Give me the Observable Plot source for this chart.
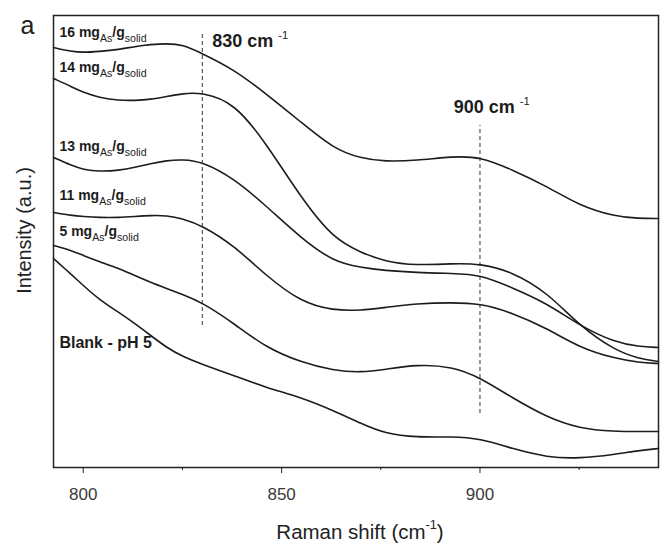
<!DOCTYPE html>
<html>
<head>
<meta charset="utf-8">
<script src="https://cdn.jsdelivr.net/npm/d3@7"></script>
<script src="https://cdn.jsdelivr.net/npm/@observablehq/plot@0.6"></script>
<style>
  html, body { margin: 0; padding: 0; background: #fff; }
  #chart { width: 660px; height: 543px; }
</style>
</head>
<body>
<div id="chart"></div>
<script>
// Raman shift (cm^-1)
const wavenumber = [792.5, 797, 800, 804, 809, 813, 817, 821, 825, 830, 838, 846, 855, 863, 870, 876, 884, 893, 900, 908, 917, 925, 934, 940, 945];

// Intensity (a.u.)
const s16   = [4.20, 4.16, 4.15, 4.16, 4.18, 4.21, 4.23, 4.24, 4.23, 4.14, 3.98, 3.74, 3.45, 3.19, 3.09, 3.06, 3.07, 3.11, 3.11, 2.98, 2.81, 2.62, 2.51, 2.49, 2.49];
const s14   = [3.89, 3.81, 3.75, 3.70, 3.67, 3.67, 3.68, 3.71, 3.74, 3.75, 3.65, 3.25, 2.69, 2.29, 2.15, 2.06, 2.02, 2.04, 2.04, 1.96, 1.75, 1.42, 1.17, 1.09, 1.06];
const s13   = [3.10, 3.02, 2.98, 2.96, 2.97, 3.00, 3.04, 3.07, 3.08, 3.06, 2.89, 2.62, 2.29, 2.06, 2.00, 1.97, 1.95, 1.94, 1.93, 1.80, 1.64, 1.42, 1.25, 1.21, 1.20];
const s11   = [2.55, 2.52, 2.51, 2.50, 2.50, 2.51, 2.52, 2.52, 2.49, 2.42, 2.22, 1.92, 1.65, 1.57, 1.57, 1.60, 1.64, 1.65, 1.64, 1.55, 1.39, 1.20, 1.09, 1.05, 1.04];
const s5    = [2.22, 2.17, 2.12, 2.06, 1.99, 1.92, 1.85, 1.79, 1.73, 1.65, 1.44, 1.20, 1.05, 0.97, 0.95, 0.98, 1.03, 1.01, 0.90, 0.70, 0.50, 0.39, 0.36, 0.36, 0.36];
const blank = [2.09, 1.93, 1.82, 1.68, 1.55, 1.44, 1.32, 1.20, 1.11, 1.03, 0.92, 0.80, 0.70, 0.57, 0.44, 0.34, 0.30, 0.31, 0.29, 0.19, 0.10, 0.09, 0.13, 0.17, 0.19];

const seriesNames = ["16 mg_{As}/g_{solid}", "14 mg_{As}/g_{solid}", "13 mg_{As}/g_{solid}", "11 mg_{As}/g_{solid}", "5 mg_{As}/g_{solid}", "Blank - pH 5"];
const seriesValues = [s16, s14, s13, s11, s5, blank];

// curve labels (anchor in data units)
const labelX = [794, 794, 794, 794, 794, 794];
const labelY = [4.345, 3.995, 3.205, 2.715, 2.355, 1.25];

// reference band markers
const markerX = [830, 900];
const markerTop = [4.35, 3.42];
const markerBottom = [1.42, 0.54];
const markerText = ["830 cm ^{-1}", "900 cm ^{-1}"];
const markerTextX = [832.5, 893.4];
const markerTextY = [4.26, 3.60];

const majorTicks = [800, 850, 900];
const minorTicks = [825, 875, 925];
const xDomain = [792.5, 945];
const yDomain = [0, 4.52];

const xLabel = "Raman shift (cm^{-1})";
const yLabel = "Intensity (a.u.)";
const panelLabel = "a";

const rows = [];
seriesNames.forEach((name, i) => {
  wavenumber.forEach((w, j) => rows.push({series: name, w, I: seriesValues[i][j]}));
});
const markers = markerX.map((x, i) => ({x, y1: markerBottom[i], y2: markerTop[i], text: markerText[i], tx: markerTextX[i], ty: markerTextY[i]}));

const ink = "#1c1c1c";
const plot = Plot.plot({
  width: 660,
  height: 543,
  marginLeft: 53,
  marginRight: 2,
  marginTop: 15,
  marginBottom: 76,
  style: {fontFamily: "Arial, 'Liberation Sans', Helvetica, sans-serif", background: "#fff", color: ink},
  x: {domain: xDomain},
  y: {domain: yDomain, axis: null},
  marks: [
    Plot.ruleX(markers, {x: "x", y1: "y1", y2: "y2", stroke: "#333", strokeWidth: 1, strokeDasharray: "4,3"}),
    Plot.line(rows, {x: "w", y: "I", z: "series", curve: "basis", stroke: ink, strokeWidth: 1.6}),
    Plot.frame({stroke: "#222", strokeWidth: 1.5}),
    Plot.axisX({ticks: majorTicks, tickSize: 6, tickPadding: 14, fontSize: 17, label: null, stroke: "#222", fill: "#3a3a3a"}),
    Plot.axisX({ticks: minorTicks, tickSize: 3, tickFormat: () => "", label: null, stroke: "#222"}),
    Plot.text(seriesNames, {x: labelX, y: labelY, text: d => d, textAnchor: "start", lineAnchor: "middle",
      fontSize: (d) => d.startsWith("Blank") ? 16 : 14, fontWeight: "bold", fill: ink}),
    Plot.text(markers, {x: "tx", y: "ty", text: "text", textAnchor: "start", lineAnchor: "middle", fontSize: 18, fontWeight: "bold", fill: ink}),
    Plot.text([xLabel], {frameAnchor: "bottom", text: d => d, dx: 4, dy: 64.6, lineAnchor: "middle", fontSize: 20.5, fill: "#222"}),
    Plot.text([yLabel], {x: [xDomain[0]], y: [2.37], text: d => d, rotate: -90, dx: -29, lineAnchor: "middle", textAnchor: "middle", fontSize: 20, fill: "#222"}),
    Plot.text([panelLabel], {x: [xDomain[0]], y: [4.42], text: d => d, dx: -33, textAnchor: "start", lineAnchor: "middle", fontSize: 25, fill: "#222"})
  ]
});

// turn _{...} and ^{...} into sub/superscript tspans
function richify(root) {
  d3.select(root).selectAll("text").each(function() {
    const txt = this.textContent;
    if (!/[_^]\{/.test(txt)) return;
    const parts = [];
    const re = /([_^])\{([^}]*)\}/g;
    let last = 0, m;
    while ((m = re.exec(txt))) {
      if (m.index > last) parts.push({t: txt.slice(last, m.index), s: 0});
      parts.push(m[1] === "_" ? {t: m[2], s: 0.3, k: 0.76} : {t: m[2], s: -0.45, k: 0.62});
      last = re.lastIndex;
    }
    if (last < txt.length) parts.push({t: txt.slice(last), s: 0});
    const el = d3.select(this);
    el.text(null);
    let shift = 0;
    for (const p of parts) {
      const ts = el.append("tspan").text(p.t);
      if (p.s === 0) {
        if (shift !== 0) ts.attr("dy", (-shift) + "em");
        shift = 0;
      } else {
        ts.attr("font-size", p.k + "em").attr("font-weight", "normal").attr("dy", ((p.s - shift) / p.k).toFixed(3) + "em");
        shift = p.s;
      }
    }
  });
}
richify(plot);
document.getElementById("chart").appendChild(plot);
</script>
</body>
</html>
